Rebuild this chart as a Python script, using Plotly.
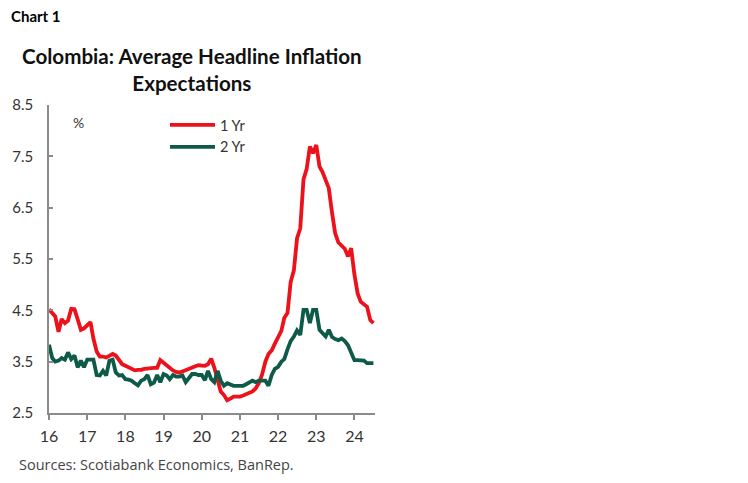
import pandas as pd
import plotly.graph_objects as go

dates = pd.date_range("2016-01-01", periods=103, freq="MS")

one_yr = [
    4.52, 4.45, 4.38, 4.08, 4.33, 4.25, 4.30, 4.53, 4.52, 4.33, 4.12, 4.15,   # 2016
    4.20, 4.27, 3.95, 3.70, 3.60, 3.60, 3.58, 3.62, 3.65, 3.62, 3.52, 3.45,   # 2017
    3.42, 3.39, 3.36, 3.33, 3.34, 3.34, 3.36, 3.37, 3.37, 3.38, 3.38, 3.53,   # 2018
    3.48, 3.42, 3.37, 3.33, 3.30, 3.29, 3.31, 3.34, 3.37, 3.39, 3.41, 3.43,   # 2019
    3.43, 3.42, 3.45, 3.56, 3.38, 3.15, 2.92, 2.85, 2.75, 2.78, 2.82, 2.82,   # 2020
    2.82, 2.84, 2.87, 2.90, 2.92, 2.98, 3.08, 3.25, 3.50, 3.65, 3.72, 3.85,   # 2021
    3.98, 4.10, 4.35, 4.45, 5.05, 5.28, 5.90, 6.10, 7.05, 7.25, 7.69, 7.56,   # 2022
    7.72, 7.30, 7.20, 7.04, 6.88, 6.40, 6.00, 5.82, 5.75, 5.70, 5.55, 5.71,   # 2023
    5.20, 4.83, 4.67, 4.63, 4.57, 4.31, 4.25,                                 # 2024
]

two_yr = [
    3.83, 3.57, 3.50, 3.52, 3.57, 3.54, 3.68, 3.55, 3.62, 3.39, 3.52, 3.39,   # 2016
    3.54, 3.54, 3.54, 3.24, 3.23, 3.32, 3.23, 3.52, 3.54, 3.29, 3.23, 3.24,   # 2017
    3.16, 3.15, 3.13, 3.08, 3.04, 3.13, 3.16, 3.24, 3.06, 3.09, 3.24, 3.10,   # 2018
    3.26, 3.23, 3.16, 3.24, 3.21, 3.21, 3.23, 3.10, 3.19, 3.26, 3.26, 3.24,   # 2019
    3.24, 3.14, 3.32, 3.16, 3.10, 3.32, 3.13, 3.03, 3.08, 3.06, 3.03, 3.03,   # 2020
    3.03, 3.03, 3.06, 3.09, 3.13, 3.10, 3.13, 3.13, 3.13, 3.03, 3.24, 3.36,   # 2021
    3.40, 3.50, 3.55, 3.74, 3.90, 3.99, 4.11, 4.02, 4.51, 4.51, 4.25, 4.51,   # 2022
    4.51, 4.12, 4.05, 3.99, 4.12, 3.98, 3.94, 3.92, 3.95, 3.90, 3.82, 3.66,   # 2023
    3.53, 3.53, 3.53, 3.52, 3.47, 3.47, 3.47,                                 # 2024
]

year_ticks = pd.date_range("2016-01-01", "2024-01-01", freq="YS")
year_labels = ["16", "17", "18", "19", "20", "21", "22", "23", "24"]
y_ticks = [2.5, 3.5, 4.5, 5.5, 6.5, 7.5, 8.5]

RED = "#EC111A"
GREEN = "#0E5A48"
FONT = "Lato"

fig = go.Figure()
fig.add_trace(go.Scatter(x=dates, y=one_yr, mode="lines", name="1 Yr",
                         line=dict(color=RED, width=3.8)))
fig.add_trace(go.Scatter(x=dates, y=two_yr, mode="lines", name="2 Yr",
                         line=dict(color=GREEN, width=3.8)))

# page body has an 8px default margin: compensate
OFF = 8
W, H = 748 - OFF, 483 - OFF
L, T = 49 - OFF, 105 - OFF
pw, ph = 326, 308
R, B = W - L - pw, H - T - ph

def px(xp):
    return (xp - OFF - L) / pw

def py(yp):
    return (T + ph - (yp - OFF)) / ph

fig.update_layout(
    width=W, height=H,
    margin=dict(l=L, r=R, t=T, b=B, autoexpand=False),
    paper_bgcolor="white", plot_bgcolor="white",
    font=dict(family=FONT, color="#333333", size=14),
    showlegend=True,
    legend=dict(x=px(165), y=py(109), xanchor="left", yanchor="top",
                bgcolor="rgba(0,0,0,0)", font=dict(size=14.5, color="#333333"),
                tracegroupgap=0, itemwidth=45),
    xaxis=dict(
        range=["2016-01-01", "2024-07-16"], automargin=False,
        tickmode="array", tickvals=year_ticks, ticktext=year_labels,
        showgrid=False, zeroline=False,
        showline=True, linecolor="#8a8a8a", linewidth=1.5,
        ticks="outside", ticklen=5, tickcolor="#8a8a8a", tickwidth=1.5,
        ticklabelstandoff=3,
        tickfont=dict(size=16, color="#333333"),
    ),
    yaxis=dict(
        range=[2.5, 8.5], automargin=False,
        tickmode="array", tickvals=y_ticks, ticktext=[f"{v:.1f}" for v in y_ticks],
        showgrid=False, zeroline=False,
        showline=True, linecolor="#8a8a8a", linewidth=1.5,
        ticks="inside", ticklen=4, tickcolor="#8a8a8a", tickwidth=1.5,
        ticklabelstandoff=11,
        tickfont=dict(size=15, color="#333333"),
    ),
    annotations=[
        dict(text="<b>Chart 1</b>", xref="paper", yref="paper",
             x=px(9), y=py(16), xanchor="left", yanchor="middle",
             showarrow=False, font=dict(size=15, color="#000000", family=FONT)),
        dict(text="<b>Colombia: Average Headline Inflation<br>Expecta\u200ctions</b>",
             xref="paper", yref="paper", x=px(192), y=py(69),
             xanchor="center", yanchor="middle", showarrow=False,
             font=dict(size=20.6, color="#111111", family=FONT)),
        dict(text="%", xref="paper", yref="paper", x=px(78), y=py(122),
             xanchor="center", yanchor="middle", showarrow=False,
             font=dict(size=14, color="#333333")),
        dict(text="Sources: Scotiabank Economics, BanRep.", xref="paper", yref="paper",
             x=px(17), y=py(464), xanchor="left", yanchor="middle", showarrow=False,
             font=dict(size=14.5, color="#444444", family="Open Sans")),
    ],
)

fig.write_html("out.html")
